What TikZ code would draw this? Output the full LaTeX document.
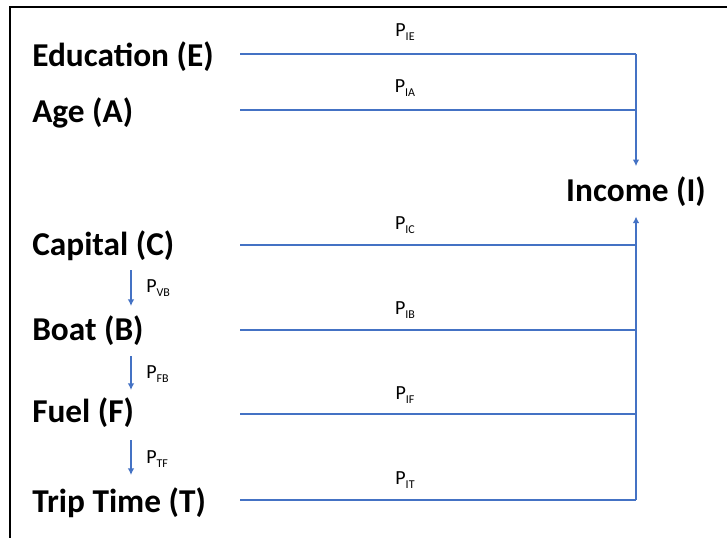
\documentclass[tikz,border=0pt]{standalone}
\usepackage{fontspec}
\setmainfont{Carlito}
\usepackage{tikz}
\usetikzlibrary{arrows.meta}
\definecolor{pathblue}{HTML}{4472C4}
\newcommand{\pc}[1]{P\raisebox{-2.5pt}{\fontsize{9}{9}\selectfont #1}}
\tikzset{var/.style={font=\fontsize{25}{30}\selectfont\bfseries,inner sep=0pt,anchor=west},
    coef/.style={font=\fontsize{15}{17}\selectfont,inner sep=0pt},
    path/.style={draw=pathblue,line width=1.8pt},
    effect/.style={path,-{Latex[length=5pt,width=5pt]}},
    frame/.style={draw=black,line width=0.8pt}}

\begin{document}
\begin{tikzpicture}[x=0.75pt,y=-0.75pt]
    \useasboundingbox (0,0) rectangle (727,538);
    \draw[frame] (10,538) -- (10,7) -- (727,7);
    \node[var] (E) at (32,57) {Education (E)};
    \node[var] (A) at (32,113) {Age (A)};
    \node[var] (C) at (32,246) {Capital (C)};
    \node[var] (B) at (32,331) {Boat (B)};
    \node[var] (F) at (32,413) {Fuel (F)};
    \node[var] (T) at (32,503) {Trip Time (T)};
    \node[var,anchor=center] (I) at (636,192) {Income (I)};
    \coordinate (sE) at (240,54);
    \coordinate (sA) at (240,110);
    \coordinate (sC) at (240,245);
    \coordinate (sB) at (240,330);
    \coordinate (sF) at (240,414);
    \coordinate (sT) at (240,500);
    \coordinate (jE) at (636,54);
    \coordinate (jA) at (636,110);
    \coordinate (jC) at (636,245);
    \coordinate (jB) at (636,330);
    \coordinate (jF) at (636,414);
    \coordinate (jT) at (636,500);
    \draw[path] (sE) -- (jE);
    \draw[path] (sA) -- (jA);
    \draw[path] (sC) -- (jC);
    \draw[path] (sB) -- (jB);
    \draw[path] (sF) -- (jF);
    \draw[path] (sT) -- (jT);
    \draw[effect] (jE) -- ([yshift=8pt]I.north);
    \draw[effect] (jT) -- ([yshift=-7pt]I.south);
    \node[coef] (pIE) at (405,32) {\pc{IE}};
    \node[coef] (pIA) at (405,88) {\pc{IA}};
    \node[coef] (pIC) at (405,225) {\pc{IC}};
    \node[coef] (pIB) at (405,310) {\pc{IB}};
    \node[coef] (pIF) at (405,395) {\pc{IF}};
    \node[coef] (pIT) at (405,480) {\pc{IT}};
    \coordinate (c1) at (131,270);
    \coordinate (b0) at (131,306);
    \coordinate (b1) at (131,356);
    \coordinate (f0) at (131,390);
    \coordinate (f1) at (131,440);
    \coordinate (t0) at (131,475);
    \draw[effect] (c1) -- (b0);
    \draw[effect] (b1) -- (f0);
    \draw[effect] (f1) -- (t0);
    \node[coef,anchor=west] (pVB) at (146,288) {\pc{VB}};
    \node[coef,anchor=west] (pFB) at (146,374) {\pc{FB}};
    \node[coef,anchor=west] (pTF) at (146,459) {\pc{TF}};
\end{tikzpicture}
\end{document}
